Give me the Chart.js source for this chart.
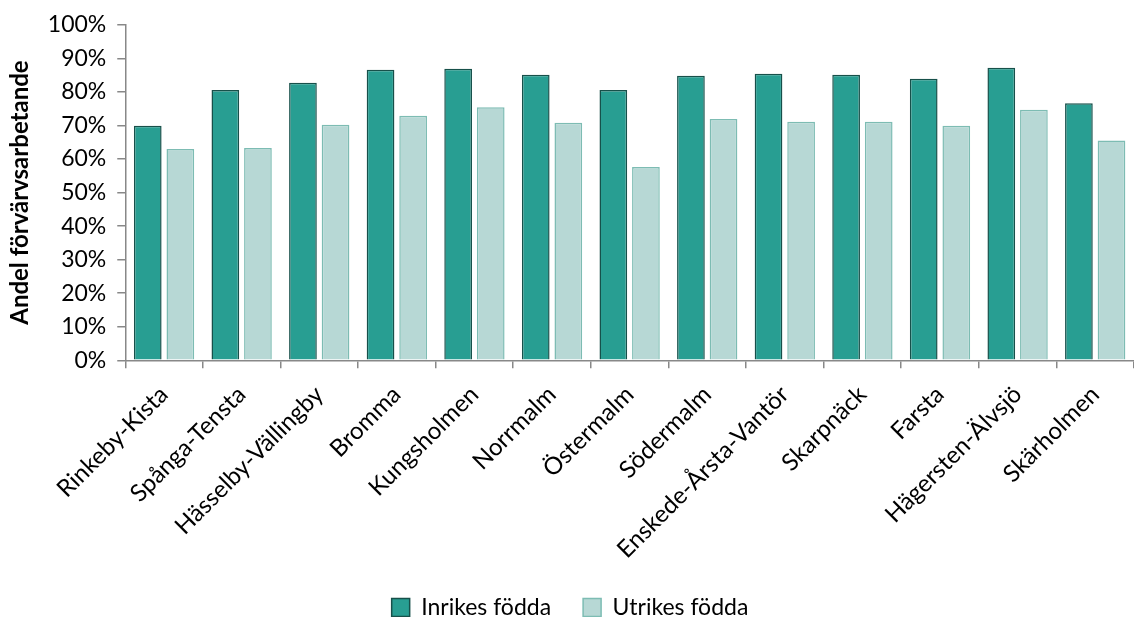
<!DOCTYPE html>
<html>
<head>
<meta charset="utf-8">
<script src="https://cdn.jsdelivr.net/npm/chart.js@4"></script>
<style>
  html, body { margin: 0; padding: 0; background: #fff; }
  #wrap { width: 1134px; height: 617px; }
</style>
</head>
<body>
<div id="wrap"><canvas id="chart"></canvas></div>
<script>
var districts = ["Rinkeby-Kista", "Spånga-Tensta", "Hässelby-Vällingby", "Bromma", "Kungsholmen", "Norrmalm",
  "Östermalm", "Södermalm", "Enskede-Årsta-Vantör", "Skarpnäck", "Farsta", "Hägersten-Älvsjö", "Skärholmen"];
var inrikes = [69.9, 80.6, 82.7, 86.6, 86.9, 85.1, 80.6, 84.8, 85.4, 85.1, 83.9, 87.2, 76.6];
var utrikes = [63.0, 63.3, 70.2, 72.9, 75.4, 70.8, 57.6, 71.9, 71.1, 71.1, 69.9, 74.7, 65.5];

var font = "Lato, 'Open Sans', sans-serif";

// lyft legenden lite närmare etiketterna
var legendLift = {
  id: "legendLift",
  afterLayout: function (chart) {
    if (chart.legend) {
      chart.legend.top -= 12;
      chart.legend.bottom -= 12;
    }
  },
};

var chart = new Chart(document.getElementById("chart").getContext("2d"), {
  type: "bar",
  data: {
    labels: districts,
    datasets: [
      {
        label: "Inrikes födda",
        data: inrikes,
        backgroundColor: "#289e92",
        borderColor: "#17504a",
        borderWidth: 1.5,
      },
      {
        label: "Utrikes födda",
        data: utrikes,
        backgroundColor: "#b7d8d5",
        borderColor: "#7dbcb3",
        borderWidth: 1.5,
      },
    ],
  },
  plugins: [legendLift],
  options: {
    responsive: true,
    maintainAspectRatio: false,
    animation: false,
    layout: { padding: { top: 11, right: 0, bottom: -24, left: 6 } },
    datasets: { bar: { categoryPercentage: 0.84, barPercentage: 0.85 } },
    plugins: {
      tooltip: { enabled: false },
      legend: {
        position: "bottom",
        labels: {
          font: { family: font, size: 23 },
          color: "#000",
          boxWidth: 18,
          boxHeight: 18,
          padding: 32,
        },
      },
    },
    scales: {
      x: {
        offset: true,
        grid: { offset: true, drawOnChartArea: false, drawTicks: true, tickLength: 8, color: "#888", lineWidth: 1.5 },
        border: { color: "#888", width: 1.5 },
        ticks: { font: { family: font, size: 24 }, color: "#000", maxRotation: 45, minRotation: 45, padding: 12 },
      },
      y: {
        min: 0,
        max: 100,
        grid: { drawOnChartArea: false, drawTicks: true, tickLength: 8, color: "#888", lineWidth: 1.5 },
        border: { color: "#888", width: 1.5 },
        ticks: {
          stepSize: 10,
          font: { family: font, size: 23 },
          color: "#000",
          padding: 11,
          callback: function (v) { return v + "%"; },
        },
        title: {
          display: true,
          text: "Andel förvärvsarbetande",
          font: { family: font, size: 24, weight: "bold" },
          color: "#000",
          padding: { top: 0, bottom: 2 },
        },
      },
    },
  },
});
</script>
</body>
</html>
